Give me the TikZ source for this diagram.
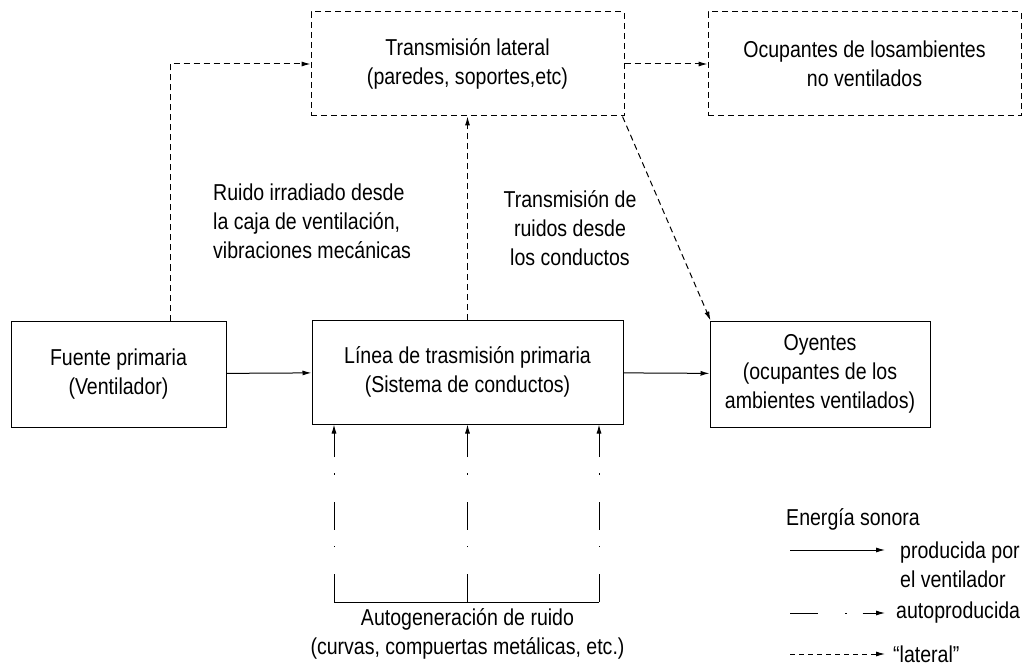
\documentclass[tikz,border=0pt]{standalone}
\usepackage{fontspec}
\setmainfont{Liberation Sans}[FakeStretch=0.85]
\usetikzlibrary{arrows.meta, positioning, calc}

\tikzset{
    caja/.style={draw, line width=1pt, align=center, minimum width=#1},
    cajalat/.style={caja=#1, dash pattern=on 6pt off 4pt},
    flecha/.style={line width=1pt, -{Latex[length=9pt, width=5pt]}},
    flechalat/.style={flecha, dash pattern=on 6pt off 4pt},
    flechaauto/.style={flecha, dash pattern=on 28pt off 27pt on 1.5pt off 16pt},
    texto/.style={align=left, inner sep=0pt},
}

\begin{document}
\begin{tikzpicture}[x=1pt, y=-1pt, font=\fontsize{23}{29}\selectfont]
    \useasboundingbox (0,0) rectangle (1030,668);

    % cajas principales
    \node[caja=215pt, minimum height=106pt] (fuente) at (118.5, 374) {Fuente primaria\\(Ventilador)};
    \node[caja=311pt, minimum height=104pt] (linea) at (467.5, 372) {L\'inea de trasmisi\'on primaria\\(Sistema de conductos)};
    \node[caja=220pt, minimum height=106pt] (oyentes) at (820, 374) {Oyentes\\(ocupantes de los\\ambientes ventilados)};

    % transmision lateral
    \node[cajalat=313pt, minimum height=104pt] (lateral) at (467.5, 64) {Transmisi\'on lateral\\(paredes, soportes,etc)};
    \node[cajalat=313pt, minimum height=104pt] (ocupantes) at (864.5, 64) {Ocupantes de losambientes\\no ventilados};

    \draw[flecha] (fuente) -- (linea);
    \draw[flecha] (linea) -- (oyentes);
    \draw[flechalat] ([xshift=51.5pt]fuente.north) |- (lateral.west);
    \draw[flechalat] (linea.north) -- (lateral.south);
    \draw[flechalat] (lateral.east) -- (ocupantes.west);
    \draw[flechalat] ([xshift=-2pt]lateral.south east) -- ([xshift=1pt]oyentes.north west);

    \node[texto] (irradiado) at (213, 221) [anchor=west] {Ruido irradiado desde\\la caja de ventilaci\'on,\\vibraciones mec\'anicas};
    \node[align=center, inner sep=0pt] (conductos) at (570, 228) {Transmisi\'on de\\ruidos desde\\los conductos};

    % autogeneracion
    \coordinate (auto1) at (334, 602);
    \coordinate (auto2) at (467.5, 602);
    \coordinate (auto3) at (599, 602);
    \draw[line width=1pt] (auto1) -- (auto3);
    \foreach \c in {auto1, auto2, auto3}
        \draw[flechaauto] (\c) -- (\c |- linea.south);
    \node[align=center, inner sep=0pt, below=6pt of auto2] (autogen) {Autogeneraci\'on de ruido\\(curvas, compuertas met\'alicas, etc.)};

    % leyenda
    \node[texto, anchor=west] (energia) at (786, 519) {Energ\'ia sonora};
    \coordinate (ley1a) at (790, 550);
    \coordinate (ley1b) at (885, 550);
    \coordinate (ley2a) at (790, 613);
    \coordinate (ley2b) at (885, 613);
    \coordinate (ley3a) at (790, 654);
    \coordinate (ley3b) at (885, 654);
    \draw[flecha] (ley1a) -- (ley1b);
    \draw[flechaauto] (ley2a) -- (ley2b);
    \draw[flechalat, dash pattern=on 5pt off 4pt] (ley3a) -- (ley3b);
    \node[texto, right=15pt of ley1b, yshift=-14.5pt] (producida) {producida por\\el ventilador};
    \node[texto, right=11pt of ley2b] (autoprod) {autoproducida};
    \node[texto, right=8pt of ley3b] (lateraltxt) {``lateral''};
\end{tikzpicture}
\end{document}
